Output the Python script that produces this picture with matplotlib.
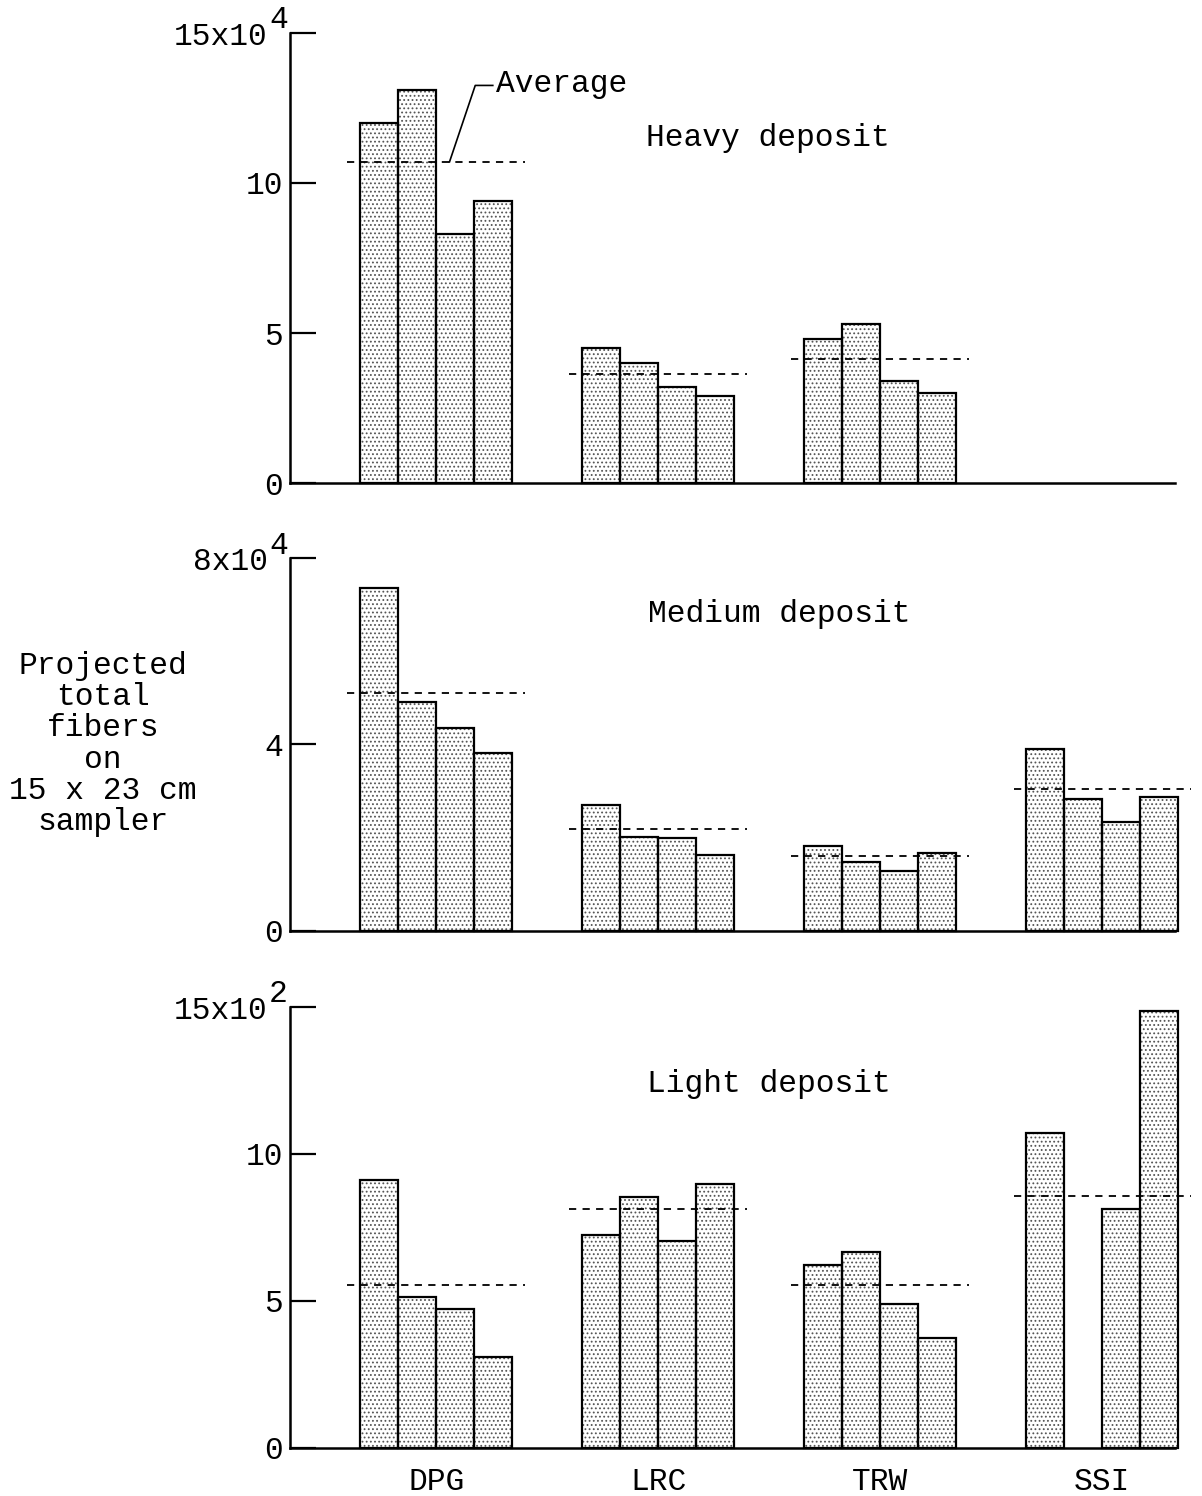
import matplotlib
matplotlib.use('Agg')
import matplotlib.pyplot as plt

plt.rcParams['font.family'] = ['Liberation Mono', 'DejaVu Sans Mono']
plt.rcParams['hatch.linewidth'] = 0.8

groups = ['DPG', 'LRC', 'TRW', 'SSI']

# values, per group, 4 samplers each
heavy_bars = [[12.0, 13.1, 8.3, 9.4], [4.5, 4.0, 3.2, 2.9], [4.8, 5.3, 3.4, 3.0], []]
heavy_avg = [10.7, 3.65, 4.15, None]

medium_bars = [[7.36, 4.92, 4.36, 3.81], [2.70, 2.01, 1.99, 1.63],
               [1.82, 1.48, 1.28, 1.67], [3.91, 2.82, 2.33, 2.87]]
medium_avg = [5.11, 2.18, 1.60, 3.04]

light_bars = [[9.11, 5.12, 4.74, 3.11], [7.24, 8.53, 7.03, 8.98],
              [6.21, 6.66, 4.91, 3.75], [10.72, 0.0, 8.12, 14.85]]
light_avg = [5.53, 8.12, 5.53, 8.57]

heavy_ticks = [0, 5, 10, 15]
medium_ticks = [0, 4, 8]
light_ticks = [0, 5, 10, 15]

panels = [
    ('Heavy deposit', heavy_bars, heavy_avg, heavy_ticks, '15x10', '4',
     [0.2413, 0.6771, 0.7362, 0.3009], (0.402, 0.767)),
    ('Medium deposit', medium_bars, medium_avg, medium_ticks, '8x10', '4',
     [0.2413, 0.3777, 0.7362, 0.2493], (0.404, 0.85)),
    ('Light deposit', light_bars, light_avg, light_ticks, '15x10', '2',
     [0.2413, 0.0321, 0.7362, 0.2948], (0.403, 0.825)),
]

W = 0.171
FS = 22.5

fig = plt.figure(figsize=(12.02, 14.96), dpi=100)

axes = []
for title, bars, avgs, ticks, toplab, sup, rect, tpos in panels:
    ax = fig.add_axes(rect)
    axes.append(ax)
    for g, vals in enumerate(bars):
        for i, v in enumerate(vals):
            x = g + (i - 1.5) * W
            ax.bar(x, v, W, facecolor='white', edgecolor='#555555',
                   hatch='....', linewidth=0, zorder=2, clip_on=False)
            if v > 0:
                ax.bar(x, v, W, facecolor='none', edgecolor='black',
                       linewidth=1.6, zorder=3, clip_on=False)
        if avgs[g] is not None:
            ax.plot([g - 0.4, g + 0.4], [avgs[g], avgs[g]], color='black',
                    lw=1.3, ls=(0, (4, 3.5)), zorder=4, clip_on=False)

    ax.set_xlim(-0.658, 3.327)
    ax.set_ylim(0, ticks[-1])
    ax.spines['top'].set_visible(False)
    ax.spines['right'].set_visible(False)
    ax.spines['left'].set_linewidth(1.8)
    ax.spines['bottom'].set_linewidth(1.8)
    ax.set_yticks(ticks)
    ax.set_yticklabels([str(t) for t in ticks[:-1]] + [''])
    ax.tick_params(axis='y', direction='in', length=19, width=1.6,
                   labelsize=FS, pad=5)
    ax.set_xticks(range(len(groups)))
    ax.set_xticklabels(groups)
    ax.tick_params(axis='x', length=0, labelsize=FS, pad=14)
    if title != 'Light deposit':
        ax.tick_params(axis='x', labelbottom=False)

    # top tick label with raised exponent
    ax.annotate(toplab, xy=(0, ticks[-1]), xycoords=('axes fraction', 'data'),
                xytext=(-16, -3), textcoords='offset points',
                ha='right', va='center', fontsize=FS)
    ax.annotate(sup, xy=(0, ticks[-1]), xycoords=('axes fraction', 'data'),
                xytext=(-15, 9), textcoords='offset points',
                ha='left', va='center', fontsize=FS)

    ax.text(tpos[0], tpos[1], title, transform=ax.transAxes,
            ha='left', va='center', fontsize=FS)

# "Average" callout on the heavy panel
ax0 = axes[0]
ax0.plot([0.255, 0.176, 0.06], [13.25, 13.25, heavy_avg[0]],
         color='black', lw=1.2, zorder=5, clip_on=False)
ax0.text(0.27, 13.3, 'Average', ha='left', va='center', fontsize=FS)

fig.text(0.0857, 0.5027, 'Projected\ntotal\nfibers\non\n15 x 23 cm\nsampler',
         ha='center', va='center', multialignment='center',
         fontsize=FS, linespacing=1.05)

fig.savefig('out.png', dpi=100)
